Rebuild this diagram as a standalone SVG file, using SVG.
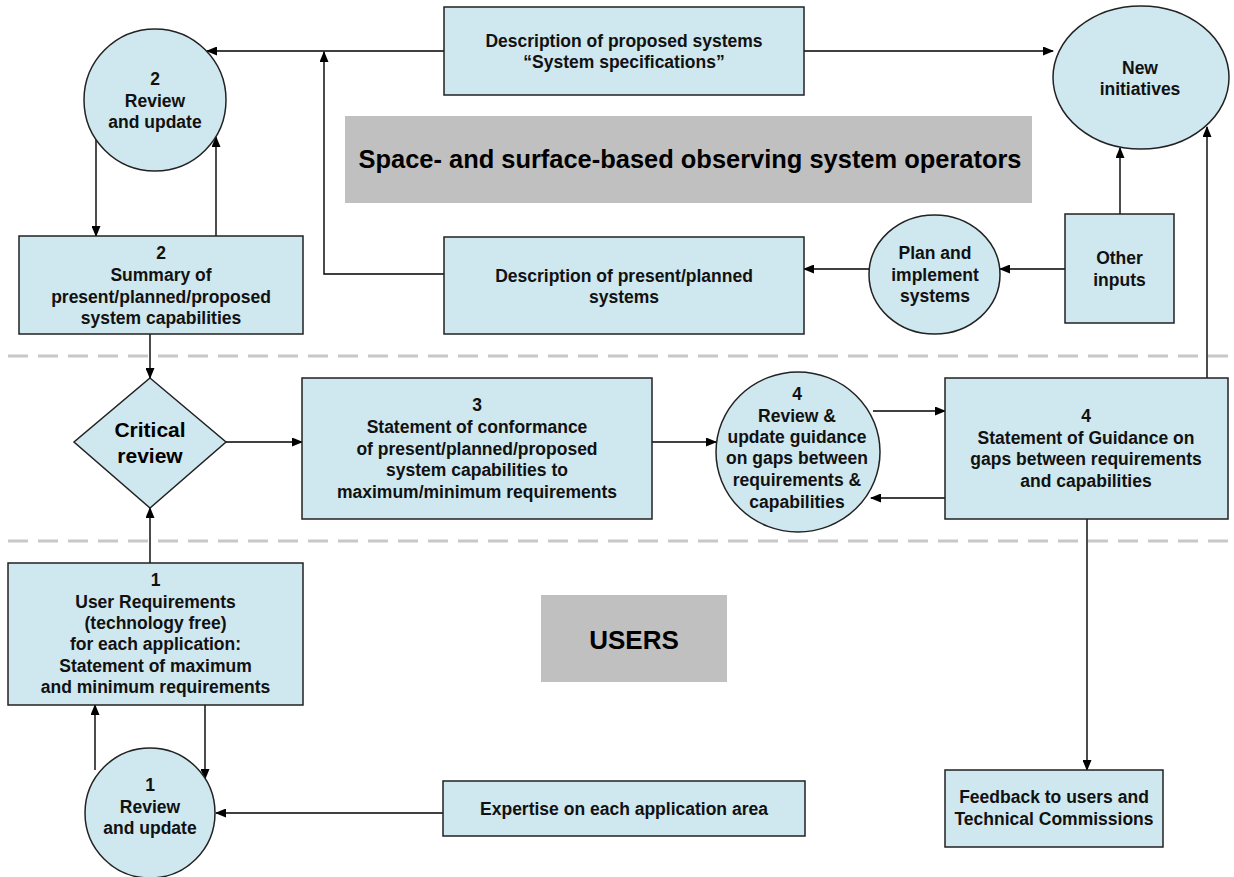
<svg xmlns="http://www.w3.org/2000/svg" width="1234" height="877" viewBox="0 0 1234 877">
<defs>
<marker id="arr" markerUnits="userSpaceOnUse" markerWidth="11" markerHeight="9" refX="10" refY="4.5" orient="auto">
<path d="M0,0 L11,4.5 L0,9 z" fill="#000"/>
</marker>
</defs>
<style>
.n{fill:#cfe7ee;stroke:#222;stroke-width:1.5}
.g{fill:#c0c0c0;stroke:none}
.t{font-family:"Liberation Sans",Arial,sans-serif;font-size:17.5px;font-weight:bold;fill:#111;text-anchor:middle}
.big{font-family:"Liberation Sans",Arial,sans-serif;font-weight:bold;fill:#000;text-anchor:middle}
.c{fill:none;stroke:#000;stroke-width:1.4;marker-end:url(#arr)}
.d{fill:none;stroke:#c8c8c8;stroke-width:3;stroke-dasharray:20 10}
</style>
<rect width="1234" height="877" fill="#fff"/>

<g id="separators">
<line class="d" x1="8" y1="356" x2="1230" y2="356"/>
<line class="d" x1="8" y1="541" x2="1230" y2="541"/>
</g>

<g id="label-operators">
<rect class="g" x="345" y="116" width="687" height="87"/>
<text class="big" x="690" y="168" font-size="25" textLength="663" lengthAdjust="spacingAndGlyphs">Space- and surface-based observing system operators</text>
</g>

<g id="label-users">
<rect class="g" x="541" y="595" width="186" height="87"/>
<text class="big" x="634" y="649" font-size="26">USERS</text>
</g>

<g id="connectors">
<path class="c" d="M444,51 H207"/>
<path class="c" d="M444,274 H324 V52"/>
<path class="c" d="M804,51 H1053"/>
<path class="c" d="M96,140 V236"/>
<path class="c" d="M216,236 V137"/>
<path class="c" d="M150,334 V378"/>
<path class="c" d="M150,563 V508"/>
<path class="c" d="M226,442 H302"/>
<path class="c" d="M652,442 H716"/>
<path class="c" d="M873,411 H945"/>
<path class="c" d="M945,498 H871"/>
<path class="c" d="M1207,378 V127"/>
<path class="c" d="M1087,519 V770"/>
<path class="c" d="M1120,214 V148"/>
<path class="c" d="M1065,269 H1000"/>
<path class="c" d="M869,269 H804"/>
<path class="c" d="M443,813 H216"/>
<path class="c" d="M205,705 V779"/>
<path class="c" d="M95,770 V705"/>
</g>

<g id="review-update-2">
<circle class="n" cx="155" cy="100" r="71"/>
<text class="t" x="155" y="85">2</text>
<text class="t" x="155" y="107">Review</text>
<text class="t" x="155" y="128">and update</text>
</g>

<g id="summary-2">
<rect class="n" x="19" y="236" width="284" height="98"/>
<text class="t" x="161" y="259">2</text>
<text class="t" x="161" y="281">Summary of</text>
<text class="t" x="161" y="303">present/planned/proposed</text>
<text class="t" x="161" y="324">system  capabilities</text>
</g>

<g id="desc-proposed">
<rect class="n" x="444" y="7" width="360" height="88"/>
<text class="t" x="624" y="47">Description  of proposed  systems</text>
<text class="t" x="624" y="68">“System specifications”</text>
</g>

<g id="desc-present">
<rect class="n" x="444" y="237" width="360" height="97"/>
<text class="t" x="624" y="282">Description  of present/planned</text>
<text class="t" x="624" y="303">systems</text>
</g>

<g id="new-initiatives">
<ellipse class="n" cx="1141" cy="77.5" rx="88" ry="71.5"/>
<text class="t" x="1140" y="74">New</text>
<text class="t" x="1140" y="95">initiatives</text>
</g>

<g id="plan-implement">
<ellipse class="n" cx="934.5" cy="274.5" rx="65.5" ry="59.5"/>
<text class="t" x="935" y="259">Plan and</text>
<text class="t" x="935" y="281">implement</text>
<text class="t" x="935" y="302">systems</text>
</g>

<g id="other-inputs">
<rect class="n" x="1065" y="214" width="109" height="109"/>
<text class="t" x="1119.5" y="264">Other</text>
<text class="t" x="1119.5" y="286">inputs</text>
</g>

<g id="critical-review">
<polygon class="n" points="150,378 226,442 150,508 74,442"/>
<text class="big" x="150" y="437" font-size="21">Critical</text>
<text class="big" x="150" y="463" font-size="21">review</text>
</g>

<g id="statement-3">
<rect class="n" x="302" y="378" width="350" height="141"/>
<text class="t" x="477" y="411">3</text>
<text class="t" x="477" y="433">Statement of conformance</text>
<text class="t" x="477" y="455">of present/planned/proposed</text>
<text class="t" x="477" y="476">system  capabilities to</text>
<text class="t" x="477" y="498">maximum/minimum requirements</text>
</g>

<g id="review-update-4">
<ellipse class="n" cx="798" cy="452" rx="82" ry="80"/>
<text class="t" x="797" y="400">4</text>
<text class="t" x="797" y="422">Review &amp;</text>
<text class="t" x="797" y="443">update guidance</text>
<text class="t" x="797" y="464">on gaps  between</text>
<text class="t" x="797" y="486">requirements &amp;</text>
<text class="t" x="797" y="508">capabilities</text>
</g>

<g id="statement-4">
<rect class="n" x="945" y="378" width="283" height="141"/>
<text class="t" x="1086" y="422">4</text>
<text class="t" x="1086" y="444">Statement of Guidance on</text>
<text class="t" x="1086" y="465">gaps  between requirements</text>
<text class="t" x="1086" y="487">and capabilities</text>
</g>

<g id="user-requirements-1">
<rect class="n" x="8" y="563" width="295" height="142"/>
<text class="t" x="155.5" y="586">1</text>
<text class="t" x="155.5" y="608">User Requirements</text>
<text class="t" x="155.5" y="629">(technology  free)</text>
<text class="t" x="155.5" y="650">for each application:</text>
<text class="t" x="155.5" y="672">Statement of maximum</text>
<text class="t" x="155.5" y="693">and minimum requirements</text>
</g>

<g id="review-update-1">
<circle class="n" cx="150" cy="813" r="65"/>
<text class="t" x="150" y="791">1</text>
<text class="t" x="150" y="813">Review</text>
<text class="t" x="150" y="834">and update</text>
</g>

<g id="expertise">
<rect class="n" x="443" y="781" width="362" height="55"/>
<text class="t" x="624" y="815">Expertise on each application area</text>
</g>

<g id="feedback">
<rect class="n" x="945" y="770" width="218" height="77"/>
<text class="t" x="1054" y="803">Feedback to users  and</text>
<text class="t" x="1054" y="825">Technical Commissions</text>
</g>
</svg>
